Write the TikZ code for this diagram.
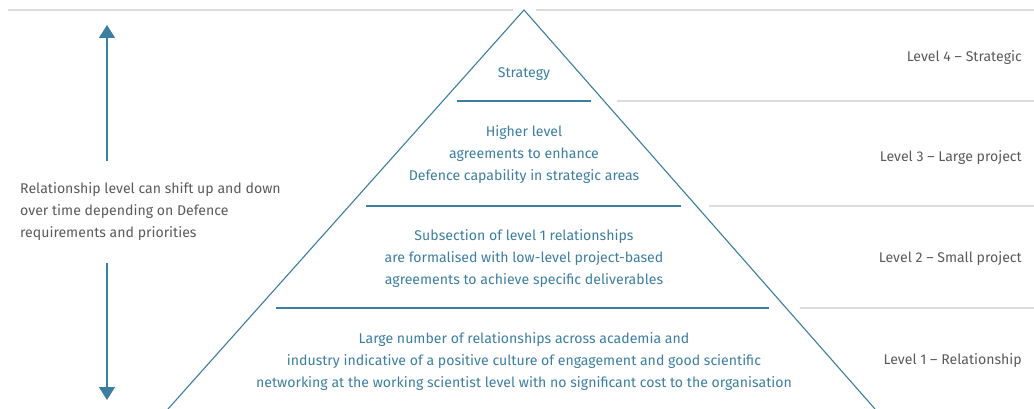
\documentclass[tikz,border=0pt]{standalone}
\usepackage{fontspec}
\setmainfont{Fira Sans}
\usetikzlibrary{arrows.meta}
\definecolor{pblue}{HTML}{3B7EA1}
\definecolor{tgrey}{HTML}{5A5A5A}
\definecolor{lgrey}{HTML}{DCDCDC}
\tikzset{
  pyr/.style={draw=pblue,line width=1.1pt},
  sep/.style={draw=pblue,line width=1.4pt},
  guide/.style={draw=lgrey,line width=1.2pt},
  intext/.style={text=pblue,font=\fontsize{14.1}{22}\selectfont,align=center,inner sep=0pt},
  lvl/.style={text=tgrey,font=\fontsize{14.1}{22}\selectfont,anchor=east,inner sep=0pt},
  side/.style={text=tgrey,font=\fontsize{14.1}{22}\selectfont,align=left,anchor=west,inner sep=0pt},
  shiftarrow/.style={draw=pblue,line width=1.4pt,-{Triangle[width=16pt,length=13pt]}}
}
\begin{document}
\begin{tikzpicture}[x=1pt,y=-1pt]
\useasboundingbox (0,0) rectangle (1034,409);
% guide lines
\draw[guide] (8,10) -- (513,10);
\draw[guide] (536,10) -- (1034,10);
\draw[guide] (617,101) -- (1034,101);
\draw[guide] (709,206) -- (1034,206);
\draw[guide] (800,308) -- (1034,308);
% pyramid
\coordinate (apex) at (524,10);
\coordinate (lfoot) at (168,409);
\coordinate (rfoot) at (875,409);
\draw[pyr] (lfoot) -- (apex) -- (rfoot);
\draw[sep] (457,101) -- (591,101);
\draw[sep] (366,206) -- (681,206);
\draw[sep] (276,308) -- (769,308);
% pyramid texts
\node[intext] (t4) at (524,74) {Strategy};
\node[intext] (t3) at (524,155) {Higher level\\agreements to enhance\\Defence capability in strategic areas};
\node[intext] (t2) at (524,259) {Subsection of level 1 relationships\\are formalised with low-level project-based\\agreements to achieve specific deliverables};
\node[intext] (t1) at (524,362) {Large number of relationships across academia and\\industry indicative of a positive culture of engagement and good scientific\\networking at the working scientist level with no significant cost to the organisation};
% level labels
\node[lvl] (l4) at (1022,58) {Level 4 -- Strategic};
\node[lvl] (l3) at (1022,158) {Level 3 -- Large project};
\node[lvl] (l2) at (1022,259) {Level 2 -- Small project};
\node[lvl] (l1) at (1022,361) {Level 1 -- Relationship};
% side note and arrows
\node[side] (note) at (20,212) {Relationship level can shift up and down\\over time depending on Defence\\requirements and priorities};
\coordinate (upfrom) at (107,161);
\coordinate (upto) at (107,25);
\coordinate (downfrom) at (107,263);
\coordinate (downto) at (107,400);
\draw[shiftarrow] (upfrom) -- (upto);
\draw[shiftarrow] (downfrom) -- (downto);
\end{tikzpicture}
\end{document}
